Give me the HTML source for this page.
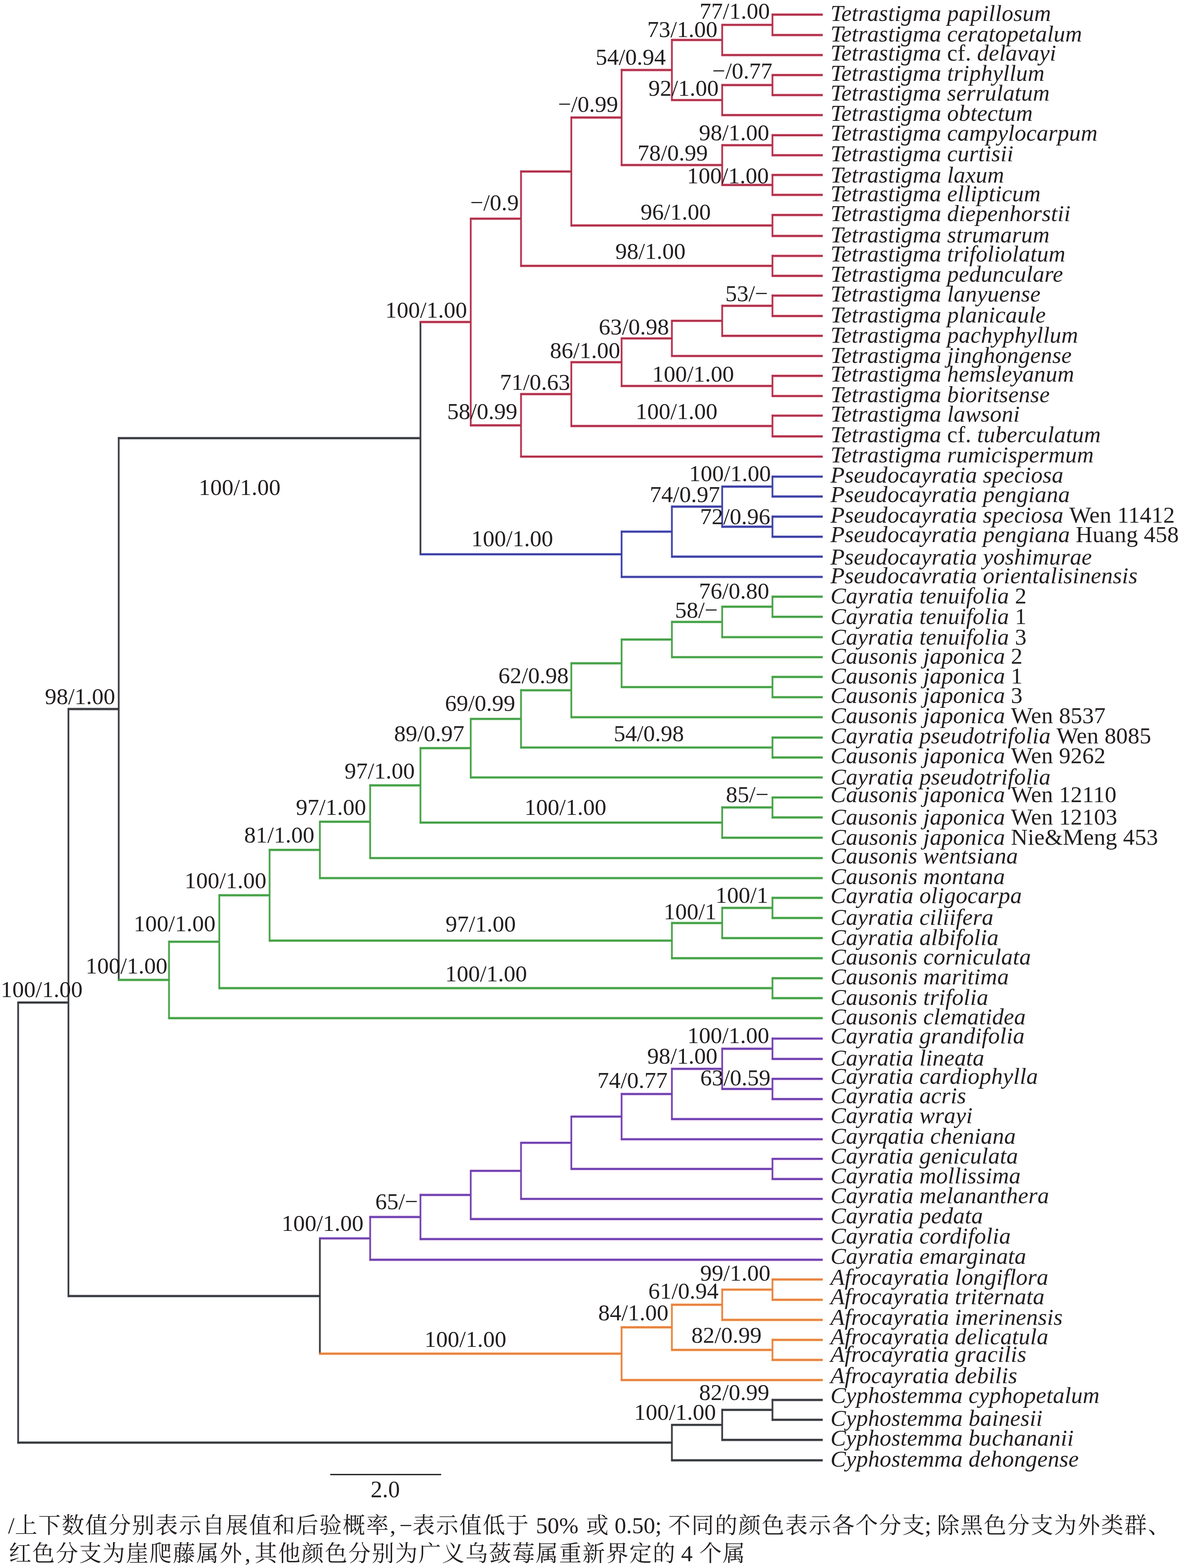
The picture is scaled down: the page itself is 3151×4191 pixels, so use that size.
<!DOCTYPE html>
<html><head><meta charset="utf-8"><title>tree</title>
<style>
html,body{margin:0;padding:0;background:#fff;overflow:hidden;}
svg{display:block;}
text{font-family:"Liberation Serif","Noto Serif CJK SC",serif;fill:#231f20;white-space:pre;}
</style></head><body>
<svg width="3151" height="4191" viewBox="0 0 3151 4191">
<rect width="3151" height="4191" fill="#fff"/>
<path d="M46.5 2679.6H182.9M180.9 1895.2H317.3M315.3 1171.1H1123.7M180.9 3464.1H854.9M46.5 3855.9H1795.7M1793.7 3808.5H1930.1M1928.1 3768.4H2064.5M2062.5 3741.8H2198.9M2062.5 3794.9H2198.9M1928.1 3848.7H2198.9M1793.7 3903.2H2198.9" stroke="#c9cace" stroke-width="8.4" fill="none" opacity="0.75"/>
<path d="M48.5 2677V3858.5M182.9 1892.6V3466.7M317.3 1168.5V2621.8M1123.7 858.1V1484.1M854.9 3307.4V3620.8M1795.7 3805.9V3905.8M1930.1 3765.8V3851.3M2064.5 3739.2V3797.5" stroke="#c9cace" stroke-width="6.8" fill="none" opacity="0.75"/>
<path d="M1121.7 860.7H1258.1M1256.1 584.5H1392.5M1390.5 458.4H1526.9M1524.9 314.2H1661.3M1659.3 187.2H1795.7M1793.7 106.8H1930.1M1928.1 66.5H2064.5M2062.5 39.2H2198.9M2062.5 93.7H2198.9M1928.1 147.2H2198.9M1793.7 267.5H1930.1M1928.1 227.3H2064.5M2062.5 200.6H2198.9M2062.5 254.1H2198.9M1928.1 307.6H2198.9M1659.3 441.2H1930.1M1928.1 388.1H2064.5M2062.5 361.4H2198.9M2062.5 414.9H2198.9M1928.1 494.3H2064.5M2062.5 467.7H2198.9M2062.5 520.9H2198.9M1524.9 602.7H2064.5M2062.5 574.7H2198.9M2062.5 630.7H2198.9M1390.5 710.6H2064.5M2062.5 684H2198.9M2062.5 737.3H2198.9M1256.1 1136.9H1392.5M1390.5 1053.4H1526.9M1524.9 968.1H1661.3M1659.3 904.5H1795.7M1793.7 857.5H1930.1M1928.1 817.4H2064.5M2062.5 790.1H2198.9M2062.5 844.6H2198.9M1928.1 897.7H2198.9M1793.7 951.5H2198.9M1659.3 1031.6H2064.5M2062.5 1004.7H2198.9M2062.5 1058.5H2198.9M1524.9 1138.7H2064.5M2062.5 1111H2198.9M2062.5 1166.4H2198.9M1390.5 1220.5H2198.9" stroke="#f3bcc8" stroke-width="8.4" fill="none" opacity="0.75"/>
<path d="M1258.1 581.9V1139.5M1392.5 455.8V713.2M1526.9 311.6V605.3M1661.3 184.6V443.8M1795.7 104.2V270.1M1930.1 63.9V149.8M2064.5 36.6V96.3M1930.1 224.8V310.2M2064.5 198V256.7M1930.1 385.5V496.9M2064.5 358.8V417.5M2064.5 465.1V523.5M2064.5 572.1V633.3M2064.5 681.4V739.9M1392.5 1050.8V1223.1M1526.9 965.5V1141.3M1661.3 901.9V1034.2M1795.7 854.9V954.1M1930.1 814.8V900.3M2064.5 787.5V847.2M2064.5 1002.1V1061.1M2064.5 1108.4V1169" stroke="#f3bcc8" stroke-width="6.8" fill="none" opacity="0.75"/>
<path d="M1121.7 1481.5H1661.3M1659.3 1421H1795.7M1793.7 1354.2H1930.1M1928.1 1300.6H2064.5M2062.5 1274H2198.9M2062.5 1327.2H2198.9M1928.1 1407.8H2064.5M2062.5 1380.9H2198.9M2062.5 1434.7H2198.9M1793.7 1487.8H2198.9M1659.3 1542H2198.9" stroke="#c6c7ee" stroke-width="8.4" fill="none" opacity="0.75"/>
<path d="M1661.3 1418.4V1544.6M1795.7 1351.6V1490.4M1930.1 1298V1410.4M2064.5 1271.4V1329.8M2064.5 1378.3V1437.3" stroke="#c6c7ee" stroke-width="6.8" fill="none" opacity="0.75"/>
<path d="M315.3 2619.2H451.7M449.7 2517.1H586.1M584.1 2392.9H720.5M718.5 2271.7H854.9M852.9 2196.3H989.3M987.3 2099.2H1123.7M1121.7 1999.7H1258.1M1256.1 1921.5H1392.5M1390.5 1845H1526.9M1524.9 1772.9H1661.3M1659.3 1709.4H1795.7M1793.7 1662.3H1930.1M1928.1 1621.7H2064.5M2062.5 1594.8H2198.9M2062.5 1648.6H2198.9M1928.1 1703H2198.9M1793.7 1756.5H2198.9M1659.3 1836.5H2064.5M2062.5 1809.4H2198.9M2062.5 1863.5H2198.9M1524.9 1917H2198.9M1390.5 1998H2064.5M2062.5 1971.4H2198.9M2062.5 2024.6H2198.9M1256.1 2078H2198.9M1121.7 2198.6H1930.1M1928.1 2158.2H2064.5M2062.5 2131.5H2198.9M2062.5 2184.9H2198.9M1928.1 2239.1H2198.9M987.3 2293.5H2198.9M852.9 2347H2198.9M718.5 2514.1H1795.7M1793.7 2467.1H1930.1M1928.1 2426.7H2064.5M2062.5 2399.8H2198.9M2062.5 2453.6H2198.9M1928.1 2507.4H2198.9M1793.7 2561.2H2198.9M584.1 2641.2H2064.5M2062.5 2614.7H2198.9M2062.5 2667.8H2198.9M449.7 2721.3H2198.9" stroke="#c5e7c1" stroke-width="8.4" fill="none" opacity="0.75"/>
<path d="M451.7 2514.5V2723.9M586.1 2390.3V2643.8M720.5 2269.1V2516.7M854.9 2193.7V2349.6M989.3 2096.6V2296.1M1123.7 1997.1V2201.2M1258.1 1918.9V2080.6M1392.5 1842.4V2000.6M1526.9 1770.3V1919.6M1661.3 1706.8V1839M1795.7 1659.8V1759.1M1930.1 1619.1V1705.6M2064.5 1592.2V1651.2M2064.5 1806.8V1866.1M2064.5 1968.8V2027.2M1930.1 2155.6V2241.7M2064.5 2128.9V2187.5M1795.7 2464.5V2563.8M1930.1 2424.1V2510M2064.5 2397.2V2456.2M2064.5 2612.1V2670.4" stroke="#c5e7c1" stroke-width="6.8" fill="none" opacity="0.75"/>
<path d="M852.9 3310H989.3M987.3 3252.8H1123.7M1121.7 3193.9H1258.1M1256.1 3129.5H1392.5M1390.5 3054.5H1526.9M1524.9 2984.5H1661.3M1659.3 2924.1H1795.7M1793.7 2856.9H1930.1M1928.1 2803.2H2064.5M2062.5 2776H2198.9M2062.5 2830.4H2198.9M1928.1 2910.6H2064.5M2062.5 2883.6H2198.9M2062.5 2937.7H2198.9M1793.7 2991.2H2198.9M1659.3 3045H2198.9M1524.9 3124.4H2064.5M2062.5 3097.5H2198.9M2062.5 3151.3H2198.9M1390.5 3204.5H2198.9M1256.1 3258.3H2198.9M1121.7 3311.8H2198.9M987.3 3367.2H2198.9" stroke="#ebc3ec" stroke-width="8.4" fill="none" opacity="0.75"/>
<path d="M989.3 3250.2V3369.8M1123.7 3191.3V3314.4M1258.1 3126.9V3260.9M1392.5 3051.9V3207.1M1526.9 2981.9V3127M1661.3 2921.5V3047.6M1795.7 2854.3V2993.8M1930.1 2800.6V2913.2M2064.5 2773.4V2833M2064.5 2881V2940.3M2064.5 3094.9V3153.9" stroke="#ebc3ec" stroke-width="6.8" fill="none" opacity="0.75"/>
<path d="M852.9 3618.2H1661.3M1659.3 3547.7H1795.7M1793.7 3487.4H1930.1M1928.1 3447H2064.5M2062.5 3419.9H2198.9M2062.5 3474.1H2198.9M1928.1 3527.8H2198.9M1793.7 3608.1H2064.5M2062.5 3581.3H2198.9M2062.5 3634.8H2198.9M1659.3 3688.6H2198.9" stroke="#f9dcae" stroke-width="8.4" fill="none" opacity="0.75"/>
<path d="M1661.3 3545.1V3691.2M1795.7 3484.8V3610.7M1930.1 3444.4V3530.4M2064.5 3417.3V3476.7M2064.5 3578.7V3637.4" stroke="#f9dcae" stroke-width="6.8" fill="none" opacity="0.75"/>
<path d="M46.5 2679.6H182.9M180.9 1895.2H317.3M315.3 1171.1H1123.7M180.9 3464.1H854.9M46.5 3855.9H1795.7M1793.7 3808.5H1930.1M1928.1 3768.4H2064.5M2062.5 3741.8H2198.9M2062.5 3794.9H2198.9M1928.1 3848.7H2198.9M1793.7 3903.2H2198.9" stroke="#34373c" stroke-width="5.2" fill="none"/>
<path d="M48.5 2677V3858.5M182.9 1892.6V3466.7M317.3 1168.5V2621.8M1123.7 858.1V1484.1M854.9 3307.4V3620.8M1795.7 3805.9V3905.8M1930.1 3765.8V3851.3M2064.5 3739.2V3797.5" stroke="#34373c" stroke-width="4" fill="none"/>
<path d="M1121.7 860.7H1258.1M1256.1 584.5H1392.5M1390.5 458.4H1526.9M1524.9 314.2H1661.3M1659.3 187.2H1795.7M1793.7 106.8H1930.1M1928.1 66.5H2064.5M2062.5 39.2H2198.9M2062.5 93.7H2198.9M1928.1 147.2H2198.9M1793.7 267.5H1930.1M1928.1 227.3H2064.5M2062.5 200.6H2198.9M2062.5 254.1H2198.9M1928.1 307.6H2198.9M1659.3 441.2H1930.1M1928.1 388.1H2064.5M2062.5 361.4H2198.9M2062.5 414.9H2198.9M1928.1 494.3H2064.5M2062.5 467.7H2198.9M2062.5 520.9H2198.9M1524.9 602.7H2064.5M2062.5 574.7H2198.9M2062.5 630.7H2198.9M1390.5 710.6H2064.5M2062.5 684H2198.9M2062.5 737.3H2198.9M1256.1 1136.9H1392.5M1390.5 1053.4H1526.9M1524.9 968.1H1661.3M1659.3 904.5H1795.7M1793.7 857.5H1930.1M1928.1 817.4H2064.5M2062.5 790.1H2198.9M2062.5 844.6H2198.9M1928.1 897.7H2198.9M1793.7 951.5H2198.9M1659.3 1031.6H2064.5M2062.5 1004.7H2198.9M2062.5 1058.5H2198.9M1524.9 1138.7H2064.5M2062.5 1111H2198.9M2062.5 1166.4H2198.9M1390.5 1220.5H2198.9" stroke="#b02f49" stroke-width="5.2" fill="none"/>
<path d="M1258.1 581.9V1139.5M1392.5 455.8V713.2M1526.9 311.6V605.3M1661.3 184.6V443.8M1795.7 104.2V270.1M1930.1 63.9V149.8M2064.5 36.6V96.3M1930.1 224.8V310.2M2064.5 198V256.7M1930.1 385.5V496.9M2064.5 358.8V417.5M2064.5 465.1V523.5M2064.5 572.1V633.3M2064.5 681.4V739.9M1392.5 1050.8V1223.1M1526.9 965.5V1141.3M1661.3 901.9V1034.2M1795.7 854.9V954.1M1930.1 814.8V900.3M2064.5 787.5V847.2M2064.5 1002.1V1061.1M2064.5 1108.4V1169" stroke="#b02f49" stroke-width="4" fill="none"/>
<path d="M1121.7 1481.5H1661.3M1659.3 1421H1795.7M1793.7 1354.2H1930.1M1928.1 1300.6H2064.5M2062.5 1274H2198.9M2062.5 1327.2H2198.9M1928.1 1407.8H2064.5M2062.5 1380.9H2198.9M2062.5 1434.7H2198.9M1793.7 1487.8H2198.9M1659.3 1542H2198.9" stroke="#3a3ea4" stroke-width="5.2" fill="none"/>
<path d="M1661.3 1418.4V1544.6M1795.7 1351.6V1490.4M1930.1 1298V1410.4M2064.5 1271.4V1329.8M2064.5 1378.3V1437.3" stroke="#3a3ea4" stroke-width="4" fill="none"/>
<path d="M315.3 2619.2H451.7M449.7 2517.1H586.1M584.1 2392.9H720.5M718.5 2271.7H854.9M852.9 2196.3H989.3M987.3 2099.2H1123.7M1121.7 1999.7H1258.1M1256.1 1921.5H1392.5M1390.5 1845H1526.9M1524.9 1772.9H1661.3M1659.3 1709.4H1795.7M1793.7 1662.3H1930.1M1928.1 1621.7H2064.5M2062.5 1594.8H2198.9M2062.5 1648.6H2198.9M1928.1 1703H2198.9M1793.7 1756.5H2198.9M1659.3 1836.5H2064.5M2062.5 1809.4H2198.9M2062.5 1863.5H2198.9M1524.9 1917H2198.9M1390.5 1998H2064.5M2062.5 1971.4H2198.9M2062.5 2024.6H2198.9M1256.1 2078H2198.9M1121.7 2198.6H1930.1M1928.1 2158.2H2064.5M2062.5 2131.5H2198.9M2062.5 2184.9H2198.9M1928.1 2239.1H2198.9M987.3 2293.5H2198.9M852.9 2347H2198.9M718.5 2514.1H1795.7M1793.7 2467.1H1930.1M1928.1 2426.7H2064.5M2062.5 2399.8H2198.9M2062.5 2453.6H2198.9M1928.1 2507.4H2198.9M1793.7 2561.2H2198.9M584.1 2641.2H2064.5M2062.5 2614.7H2198.9M2062.5 2667.8H2198.9M449.7 2721.3H2198.9" stroke="#43a046" stroke-width="5.2" fill="none"/>
<path d="M451.7 2514.5V2723.9M586.1 2390.3V2643.8M720.5 2269.1V2516.7M854.9 2193.7V2349.6M989.3 2096.6V2296.1M1123.7 1997.1V2201.2M1258.1 1918.9V2080.6M1392.5 1842.4V2000.6M1526.9 1770.3V1919.6M1661.3 1706.8V1839M1795.7 1659.8V1759.1M1930.1 1619.1V1705.6M2064.5 1592.2V1651.2M2064.5 1806.8V1866.1M2064.5 1968.8V2027.2M1930.1 2155.6V2241.7M2064.5 2128.9V2187.5M1795.7 2464.5V2563.8M1930.1 2424.1V2510M2064.5 2397.2V2456.2M2064.5 2612.1V2670.4" stroke="#43a046" stroke-width="4" fill="none"/>
<path d="M852.9 3310H989.3M987.3 3252.8H1123.7M1121.7 3193.9H1258.1M1256.1 3129.5H1392.5M1390.5 3054.5H1526.9M1524.9 2984.5H1661.3M1659.3 2924.1H1795.7M1793.7 2856.9H1930.1M1928.1 2803.2H2064.5M2062.5 2776H2198.9M2062.5 2830.4H2198.9M1928.1 2910.6H2064.5M2062.5 2883.6H2198.9M2062.5 2937.7H2198.9M1793.7 2991.2H2198.9M1659.3 3045H2198.9M1524.9 3124.4H2064.5M2062.5 3097.5H2198.9M2062.5 3151.3H2198.9M1390.5 3204.5H2198.9M1256.1 3258.3H2198.9M1121.7 3311.8H2198.9M987.3 3367.2H2198.9" stroke="#6c40b0" stroke-width="5.2" fill="none"/>
<path d="M989.3 3250.2V3369.8M1123.7 3191.3V3314.4M1258.1 3126.9V3260.9M1392.5 3051.9V3207.1M1526.9 2981.9V3127M1661.3 2921.5V3047.6M1795.7 2854.3V2993.8M1930.1 2800.6V2913.2M2064.5 2773.4V2833M2064.5 2881V2940.3M2064.5 3094.9V3153.9" stroke="#6c40b0" stroke-width="4" fill="none"/>
<path d="M852.9 3618.2H1661.3M1659.3 3547.7H1795.7M1793.7 3487.4H1930.1M1928.1 3447H2064.5M2062.5 3419.9H2198.9M2062.5 3474.1H2198.9M1928.1 3527.8H2198.9M1793.7 3608.1H2064.5M2062.5 3581.3H2198.9M2062.5 3634.8H2198.9M1659.3 3688.6H2198.9" stroke="#e8803f" stroke-width="5.2" fill="none"/>
<path d="M1661.3 3545.1V3691.2M1795.7 3484.8V3610.7M1930.1 3444.4V3530.4M2064.5 3417.3V3476.7M2064.5 3578.7V3637.4" stroke="#e8803f" stroke-width="4" fill="none"/>
<g font-size="62" font-style="italic" letter-spacing="0.2">
<text x="2219.4" y="56">Tetrastigma papillosum</text>
<text x="2219.4" y="110.8">Tetrastigma ceratopetalum</text>
<text x="2219.4" y="162">Tetrastigma <tspan font-style="normal">cf.</tspan> delavayi</text>
<text x="2219.4" y="215.8">Tetrastigma triphyllum</text>
<text x="2219.4" y="269">Tetrastigma serrulatum</text>
<text x="2219.4" y="323.4">Tetrastigma obtectum</text>
<text x="2219.4" y="375.9">Tetrastigma campylocarpum</text>
<text x="2219.4" y="430.8">Tetrastigma curtisii</text>
<text x="2219.4" y="487.7">Tetrastigma laxum</text>
<text x="2219.4" y="538.3">Tetrastigma ellipticum</text>
<text x="2219.4" y="591.1">Tetrastigma diepenhorstii</text>
<text x="2219.4" y="647.5">Tetrastigma strumarum</text>
<text x="2219.4" y="699.2">Tetrastigma trifoliolatum</text>
<text x="2219.4" y="752.7">Tetrastigma pedunculare</text>
<text x="2219.4" y="805.9">Tetrastigma lanyuense</text>
<text x="2219.4" y="862.1">Tetrastigma planicaule</text>
<text x="2219.4" y="915.9">Tetrastigma pachyphyllum</text>
<text x="2219.4" y="970.1">Tetrastigma jinghongense</text>
<text x="2219.4" y="1019.5">Tetrastigma hemsleyanum</text>
<text x="2219.4" y="1074.5">Tetrastigma bioritsense</text>
<text x="2219.4" y="1127.1">Tetrastigma lawsoni</text>
<text x="2219.4" y="1182">Tetrastigma <tspan font-style="normal">cf.</tspan> tuberculatum</text>
<text x="2219.4" y="1236.1">Tetrastigma rumicispermum</text>
<text x="2219.4" y="1290">Pseudocayratia speciosa</text>
<text x="2219.4" y="1342.2">Pseudocayratia pengiana</text>
<text x="2219.4" y="1396.6">Pseudocayratia speciosa <tspan font-style="normal">Wen 11412</tspan></text>
<text x="2219.4" y="1448.6">Pseudocayratia pengiana <tspan font-style="normal">Huang 458</tspan></text>
<text x="2219.4" y="1508.7">Pseudocayratia yoshimurae</text>
<text x="2219.4" y="1559.4">Pseudocavratia orientalisinensis</text>
<text x="2219.4" y="1613.2">Cayratia tenuifolia <tspan font-style="normal">2</tspan></text>
<text x="2219.4" y="1667.6">Cayratia tenuifolia <tspan font-style="normal">1</tspan></text>
<text x="2219.4" y="1722.7">Cayratia tenuifolia <tspan font-style="normal">3</tspan></text>
<text x="2219.4" y="1773.9">Causonis japonica <tspan font-style="normal">2</tspan></text>
<text x="2219.4" y="1827.1">Causonis japonica <tspan font-style="normal">1</tspan></text>
<text x="2219.4" y="1879">Causonis japonica <tspan font-style="normal">3</tspan></text>
<text x="2219.4" y="1933.4">Causonis japonica <tspan font-style="normal">Wen 8537</tspan></text>
<text x="2219.4" y="1986.6">Cayratia pseudotrifolia <tspan font-style="normal">Wen 8085</tspan></text>
<text x="2219.4" y="2039.7">Causonis japonica <tspan font-style="normal">Wen 9262</tspan></text>
<text x="2219.4" y="2097">Cayratia pseudotrifolia</text>
<text x="2219.4" y="2144.4">Causonis japonica <tspan font-style="normal">Wen 12110</tspan></text>
<text x="2219.4" y="2203.9">Causonis japonica <tspan font-style="normal">Wen 12103</tspan></text>
<text x="2219.4" y="2258.4">Causonis japonica <tspan font-style="normal">Nie&amp;Meng 453</tspan></text>
<text x="2219.4" y="2308.4">Causonis wentsiana</text>
<text x="2219.4" y="2362.8">Causonis montana</text>
<text x="2219.4" y="2414.1">Cayratia oligocarpa</text>
<text x="2219.4" y="2472.3">Cayratia ciliifera</text>
<text x="2219.4" y="2525.8">Cayratia albifolia</text>
<text x="2219.4" y="2578">Causonis corniculata</text>
<text x="2219.4" y="2631.1">Causonis maritima</text>
<text x="2219.4" y="2685.6">Causonis trifolia</text>
<text x="2219.4" y="2737.6">Causonis clematidea</text>
<text x="2219.4" y="2789">Cayratia grandifolia</text>
<text x="2219.4" y="2848.2">Cayratia lineata</text>
<text x="2219.4" y="2896.6">Cayratia cardiophylla</text>
<text x="2219.4" y="2948.5">Cayratia acris</text>
<text x="2219.4" y="3002.3">Cayratia wrayi</text>
<text x="2219.4" y="3057.3">Cayrqatia cheniana</text>
<text x="2219.4" y="3109.9">Cayratia geniculata</text>
<text x="2219.4" y="3163">Cayratia mollissima</text>
<text x="2219.4" y="3216.2">Cayratia melananthera</text>
<text x="2219.4" y="3270">Cayratia pedata</text>
<text x="2219.4" y="3323.8">Cayratia cordifolia</text>
<text x="2219.4" y="3377.6">Cayratia emarginata</text>
<text x="2219.4" y="3434.4">Afrocayratia longiflora</text>
<text x="2219.4" y="3486.3">Afrocayratia triternata</text>
<text x="2219.4" y="3540.8">Afrocayratia imerinensis</text>
<text x="2219.4" y="3592.7">Afrocayratia delicatula</text>
<text x="2219.4" y="3639.5">Afrocayratia gracilis</text>
<text x="2219.4" y="3696.5">Afrocayratia debilis</text>
<text x="2219.4" y="3749.6">Cyphostemma cyphopetalum</text>
<text x="2219.4" y="3811">Cyphostemma bainesii</text>
<text x="2219.4" y="3864.2">Cyphostemma buchananii</text>
<text x="2219.4" y="3919.9">Cyphostemma dehongense</text>
</g>
<g font-size="62" text-anchor="end">
<text x="2057.4" y="49.8">77/1.00</text>
<text x="1917.5" y="98.5">73/1.00</text>
<text x="1779.4" y="173.2">54/0.94</text>
<text x="2064.2" y="210.2">−/0.77</text>
<text x="1920.8" y="255.6">92/1.00</text>
<text x="1652.1" y="298.7">−/0.99</text>
<text x="2055.8" y="375.1">98/1.00</text>
<text x="1891.7" y="428.7">78/0.99</text>
<text x="2054.7" y="489.6">100/1.00</text>
<text x="1386.4" y="561.5">−/0.9</text>
<text x="1899.8" y="586.5">96/1.00</text>
<text x="1832.3" y="691.7">98/1.00</text>
<text x="1248.3" y="849">100/1.00</text>
<text x="2052.6" y="805.1">53/−</text>
<text x="1788" y="893.6">63/0.98</text>
<text x="1657.5" y="957.2">86/1.00</text>
<text x="1961.7" y="1020.3">100/1.00</text>
<text x="1523.8" y="1042.4">71/0.63</text>
<text x="1917.5" y="1119.9">100/1.00</text>
<text x="1382.7" y="1119.8">58/0.99</text>
<text x="749.8" y="1322.8">100/1.00</text>
<text x="2060.2" y="1286.3">100/1.00</text>
<text x="1924.3" y="1342.4">74/0.97</text>
<text x="2058.7" y="1401.1">72/0.96</text>
<text x="1478.2" y="1459.8">100/1.00</text>
<text x="2055.8" y="1600.2">76/0.80</text>
<text x="1918.2" y="1651.1">58/−</text>
<text x="1519.7" y="1825.7">62/0.98</text>
<text x="1377.1" y="1900.1">69/0.99</text>
<text x="1827.9" y="1981">54/0.98</text>
<text x="1240.9" y="1981.3">89/0.97</text>
<text x="1108.5" y="2080.9">97/1.00</text>
<text x="2054.3" y="2143.7">85/−</text>
<text x="1620.4" y="2178.1">100/1.00</text>
<text x="978.5" y="2178.2">97/1.00</text>
<text x="840.3" y="2252.4">81/1.00</text>
<text x="712" y="2374.4">100/1.00</text>
<text x="2053.3" y="2412.8">100/1</text>
<text x="1915" y="2457">100/1</text>
<text x="1378.6" y="2490.2">97/1.00</text>
<text x="576" y="2489.2">100/1.00</text>
<text x="447.6" y="2601.5">100/1.00</text>
<text x="1408.5" y="2623">100/1.00</text>
<text x="307.7" y="1881.7">98/1.00</text>
<text x="220.8" y="2665.1">100/1.00</text>
<text x="2055.8" y="2787.9">100/1.00</text>
<text x="1917.5" y="2843.2">98/1.00</text>
<text x="2059.3" y="2900.9">63/0.59</text>
<text x="1784.3" y="2907.5">74/0.77</text>
<text x="1117.1" y="3231.5">65/−</text>
<text x="971.4" y="3289.6">100/1.00</text>
<text x="2059.1" y="3423.4">99/1.00</text>
<text x="1920.5" y="3471.3">61/0.94</text>
<text x="1786.4" y="3529.4">84/1.00</text>
<text x="2035.5" y="3589.1">82/0.99</text>
<text x="1353.2" y="3599.8">100/1.00</text>
<text x="2056" y="3742.4">82/0.99</text>
<text x="1913.6" y="3794.9">100/1.00</text>
</g>
<path d="M882.6 3941.3H1179.1" stroke="#231f20" stroke-width="3.6" fill="none"/>
<text x="1029.6" y="4002.3" font-size="62.5" text-anchor="middle">2.0</text>
<g fill="#231f20" font-size="62">
<text x="21.5" y="4097.5">/</text>
<text x="39.7" y="4097.5" font-size="60" letter-spacing="2.6">上下数值分别表示自展值和后验概率</text>
<text x="1042" y="4097.5">,</text>
<text x="1067.2" y="4097.5">−</text>
<text x="1102.3" y="4097.5" font-size="60" letter-spacing="2.6">表示值低于</text>
<text x="1432.3" y="4097.5">50%</text>
<text x="1566.5" y="4097.5" font-size="60" letter-spacing="2.6">或</text>
<text x="1642.6" y="4097.5">0.50;</text>
<text x="1785.5" y="4097.5" font-size="60" letter-spacing="2.6">不同的颜色表示各个分支</text>
<text x="2471.4" y="4097.5">;</text>
<text x="2504.3" y="4097.5" font-size="60" letter-spacing="2.6">除黑色分支为外类群、</text>
<text x="23.7" y="4173" font-size="60" letter-spacing="2.6">红色分支为崖爬藤属外</text>
<text x="654.3" y="4173">,</text>
<text x="680.4" y="4173" font-size="60" letter-spacing="2.6">其他颜色分别为广义乌蔹莓属重新界定的</text>
<text x="1820.2" y="4173">4</text>
<text x="1868.7" y="4173" font-size="60" letter-spacing="2.6">个属</text>
</g>
</svg>
</body></html>
